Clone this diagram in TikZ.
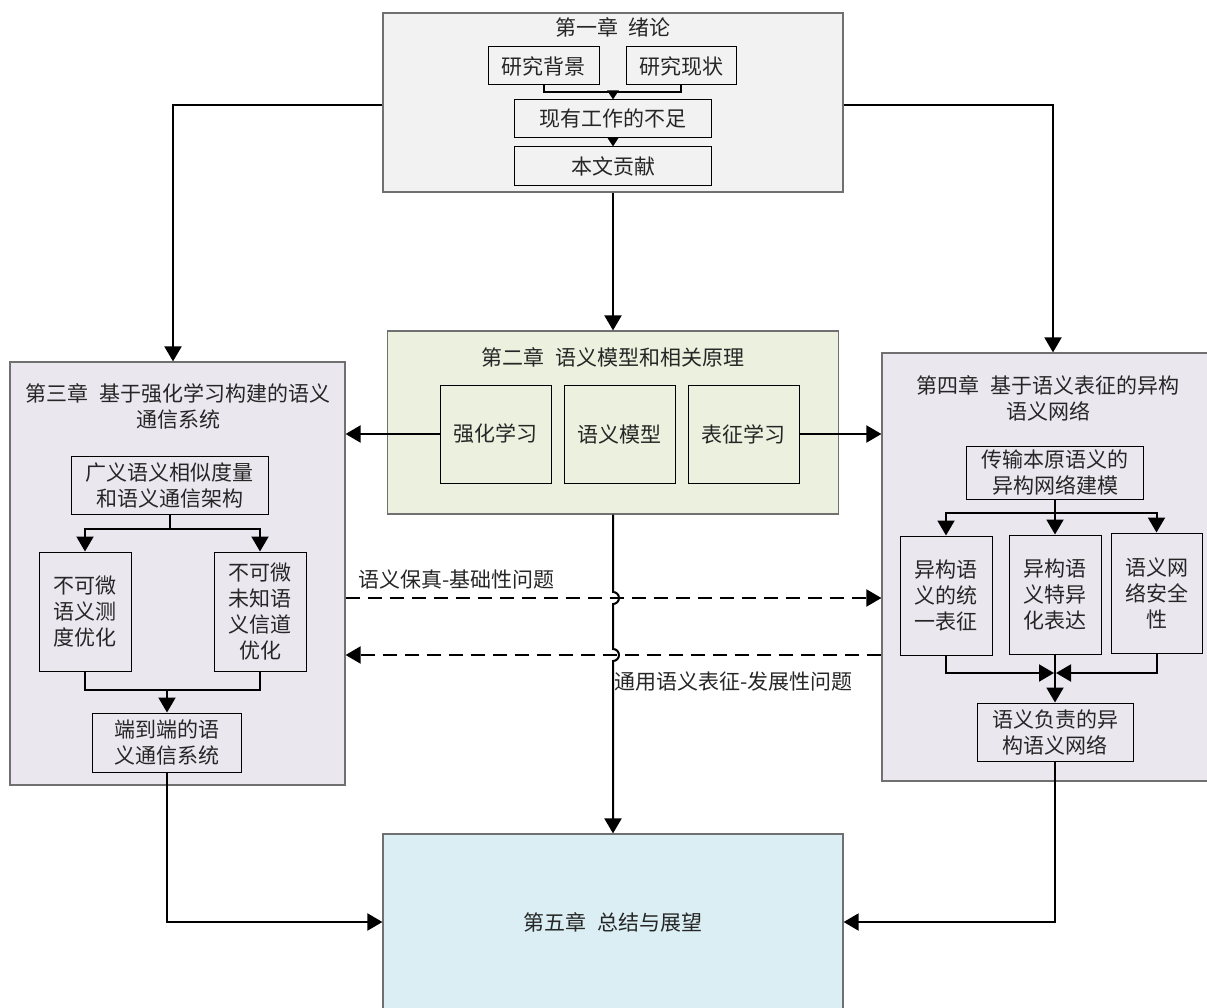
\documentclass[tikz,border=0pt]{standalone}
\usepackage{fontspec}
\newfontfamily\cjk{Noto Sans CJK SC}
\usetikzlibrary{arrows.meta}
\definecolor{fillA}{HTML}{F2F2F2}
\definecolor{fillB}{HTML}{EBF1DE}
\definecolor{fillC}{HTML}{EAE7EF}
\definecolor{fillE}{HTML}{DAEEF3}
\definecolor{txt}{HTML}{262626}
\definecolor{outl}{HTML}{707070}
\begin{document}
\begin{tikzpicture}[x=1pt,y=-1pt,
  outer/.style={draw=outl,line width=1.2pt,inner sep=0pt,align=center,
    font=\cjk\fontsize{21}{26}\selectfont,text=txt},
  ibox/.style={draw=black,line width=1pt,inner sep=0pt,align=center,
    font=\cjk\fontsize{21}{26}\selectfont,text=txt},
  ttl/.style={inner sep=0pt,align=center,font=\cjk\fontsize{21}{26}\selectfont,text=txt},
  conn/.style={line width=2pt},
  arr/.style={conn,-{Triangle[width=17pt,length=15pt]}},
  sarr/.style={conn,-{Triangle[width=11pt,length=9pt]}},
  dasharr/.style={arr,dash pattern=on 14pt off 8pt}]
\useasboundingbox (0,0) rectangle (1207,1008);
\clip (0,0) rectangle (1207,1008);

% outer chapter boxes
\node[outer,fill=fillA,minimum width=460pt,minimum height=179pt] (ch1) at (613,102.5) {};
\node[outer,fill=fillB,minimum width=451pt,minimum height=183pt] (ch2) at (613,422.5) {};
\node[outer,fill=fillC,minimum width=335pt,minimum height=423pt] (ch3) at (177.5,573.5) {};
\node[outer,fill=fillC,minimum width=348pt,minimum height=428pt] (ch4) at (1056,567) {};
\node[outer,fill=fillE,minimum width=460pt,minimum height=176pt] (ch5) at (613,922) {第五章\hspace{0.5em}总结与展望};

% titles
\node[ttl] (t1) at (613,27) {第一章\hspace{0.5em}绪论};
\node[ttl] (t2) at (613,357) {第二章\hspace{0.5em}语义模型和相关原理};
\node[ttl] (t3) at (178,406) {第三章\hspace{0.5em}基于强化学习构建的语义\\通信系统};
\node[ttl] (t4) at (1048,398) {第四章\hspace{0.5em}基于语义表征的异构\\语义网络};

% chapter 1 inner
\node[ibox,minimum width=111pt,minimum height=38pt] (b1) at (543.5,66) {研究背景};
\node[ibox,minimum width=110pt,minimum height=38pt] (b2) at (681,66) {研究现状};
\node[ibox,minimum width=197pt,minimum height=38pt] (b3) at (613,119) {现有工作的不足};
\node[ibox,minimum width=197pt,minimum height=39pt] (b4) at (613,166.5) {本文贡献};

% chapter 2 inner
\node[ibox,minimum width=111pt,minimum height=98pt] (c1) at (495.5,434) {强化学习};
\node[ibox,minimum width=111pt,minimum height=98pt] (c2) at (619.5,434) {语义模型};
\node[ibox,minimum width=111pt,minimum height=98pt] (c3) at (743.5,434) {表征学习};

% chapter 3 inner
\node[ibox,minimum width=197pt,minimum height=58pt] (d1) at (169.5,485) {广义语义相似度量\\和语义通信架构};
\node[ibox,minimum width=92pt,minimum height=119pt] (d2) at (85,611.5) {不可微\\语义测\\度优化};
\node[ibox,minimum width=92pt,minimum height=119pt] (d3) at (260,611.5) {不可微\\未知语\\义信道\\优化};
\node[ibox,minimum width=149pt,minimum height=59pt] (d4) at (167,742.5) {端到端的语\\义通信系统};

% chapter 4 inner
\node[ibox,minimum width=177pt,minimum height=53pt] (e1) at (1055,472.5) {传输本原语义的\\异构网络建模};
\node[ibox,minimum width=92pt,minimum height=119pt] (e2) at (946,595.5) {异构语\\义的统\\一表征};
\node[ibox,minimum width=92pt,minimum height=119pt] (e3) at (1055,594.5) {异构语\\义特异\\化表达};
\node[ibox,minimum width=91pt,minimum height=120pt] (e4) at (1156.5,593) {语义网\\络安全\\性};
\node[ibox,minimum width=156pt,minimum height=58pt] (e5) at (1055,732) {语义负责的异\\构语义网络};

% helper coordinates
\coordinate (j1) at (0,92);
\coordinate (k1) at (0,105);
\coordinate (u3) at (0,529);
\coordinate (v3) at (0,690);
\coordinate (u4) at (0,513);
\coordinate (v4) at (0,673);
\coordinate (jA) at (613,598);
\coordinate (jB) at (613,655);

% chapter 1 inner connectors
\draw[conn] (b1.south) |- (b2.south |- j1) -- (b2.south);
\draw[sarr] (b3.north |- j1) -- (b3.north);
\draw[sarr] (b3.south) -- (b4.north);

% chapter 1 to others
\draw[arr] (ch1.west |- k1) -| ([xshift=-4.5pt]ch3.north);
\draw[arr] (ch1.east |- k1) -| ([xshift=-3pt]ch4.north);
\draw[arr] (ch1.south) -- (ch2.north);

% chapter 2 to 3 and 4
\draw[arr] (c1.west) -- (c1.west -| ch3.east);
\draw[arr] (c3.east) -- (c3.east -| ch4.west);

% chapter 2 to 5 with jumps
\draw[arr] (ch2.south) -- ([yshift=6pt]jA) arc[start angle=90,end angle=-90,radius=6pt]
  -- ([yshift=6pt]jB) arc[start angle=90,end angle=-90,radius=6pt] -- (ch5.north);

% dashed arrows
\draw[dasharr] (ch3.east |- jA) -- (ch4.west |- jA);
\draw[dasharr] (ch4.west |- jB) -- (ch3.east |- jB);
\node[ttl,anchor=west] (l1) at (358,579) {语义保真-基础性问题};
\node[ttl,anchor=west] (l2) at (614,682) {通用语义表征-发展性问题};

% chapter 3 inner connectors
\draw[conn] (d1.south) -- (d1.south |- u3);
\draw[arr] (d1.south |- u3) -| (d2.north);
\draw[arr] (d1.south |- u3) -| (d3.north);
\draw[conn] (d2.south) |- (d3.south |- v3) -- (d3.south);
\draw[arr] (d4.north |- v3) -- (d4.north);

% chapter 4 inner connectors
\draw[conn] (e1.south) -- (e1.south |- u4);
\draw[arr] (e1.south |- u4) -| (e2.north);
\draw[arr] (e1.south |- u4) -| (e4.north);
\draw[arr] (e1.south |- u4) -- (e3.north);
\draw[arr] (e2.south) |- ([xshift=-1pt]e3.south |- v4);
\draw[arr] (e4.south) |- ([xshift=1pt]e3.south |- v4);
\draw[arr] (e3.south) -- (e5.north);

% to chapter 5
\draw[arr] (d4.south) |- (ch5.west);
\draw[arr] (e5.south) |- (ch5.east);
\end{tikzpicture}
\end{document}
